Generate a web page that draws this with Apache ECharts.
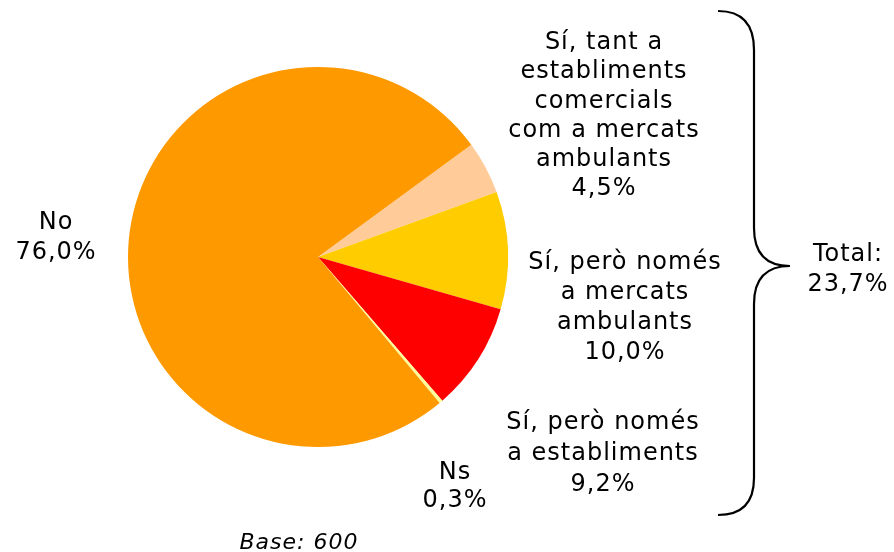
<!DOCTYPE html>
<html>
<head>
<meta charset="utf-8">
<script src="https://cdn.jsdelivr.net/npm/echarts@6/dist/echarts.min.js"></script>
<style>
  html, body { margin: 0; padding: 0; background: #fff; }
  #main { width: 894px; height: 552px; }
</style>
</head>
<body>
<div id="main"></div>
<script>
// ---- data ----
const categories = [
  'Sí, tant a\nestabliments\ncomercials\ncom a mercats\nambulants',
  'Sí, però només\na mercats\nambulants',
  'Sí, però només\na establiments',
  'Ns',
  'No'
];
const values = [4.5, 10.0, 9.2, 0.3, 76.0];
const totalLabel = 'Total:';
const baseText = 'Base: 600';

// ---- style ----
const colors = ['#FFCC99', '#FFCC00', '#FF0000', '#FFFF99', '#FF9900'];
const labelPos = [[604, 116], [625, 308], [603, 454], [455, 487], [56, 238]];
const labelLineHeights = [29.2, 30, 31, 28, 30];
const FONT = "'DejaVu Sans', Verdana, sans-serif";

// widen the text a little, like the reference's spaced-out lettering
(function () {
  const proto = CanvasRenderingContext2D.prototype;
  const orig = proto.fillText;
  proto.fillText = function () {
    try { this.letterSpacing = '1px'; } catch (e) {}
    return orig.apply(this, arguments);
  };
})();

function fmt(v) { return v.toFixed(1).replace('.', ','); }

const yesTotal = values[0] + values[1] + values[2];

const braceStyle = { fill: 'none', stroke: '#000', lineWidth: 2.2 };
function curve(x1, y1, cx, cy, x2, y2) {
  return { type: 'bezierCurve', shape: { x1, y1, cpx1: cx, cpy1: cy, x2, y2 }, style: braceStyle };
}
function seg(x1, y1, x2, y2) {
  return { type: 'line', shape: { x1, y1, x2, y2 }, style: braceStyle };
}

const chart = echarts.init(document.getElementById('main'), null, { renderer: 'canvas' });
chart.setOption({
  animation: false,
  backgroundColor: '#fff',
  series: [{
    type: 'pie',
    center: [318, 257],
    radius: [0, 190],
    startAngle: 36.2,
    clockwise: true,
    avoidLabelOverlap: false,
    itemStyle: { borderWidth: 0 },
    label: {
      show: true,
      position: 'outside',
      color: '#000',
      fontFamily: FONT,
      fontSize: 24,
      lineHeight: 30,
      align: 'center',
      formatter: p => p.name + '\n' + fmt(p.value) + '%'
    },
    labelLine: { show: false },
    labelLayout: function (params) {
      const p = labelPos[params.dataIndex];
      return { x: p[0], y: p[1], align: 'center', verticalAlign: 'middle' };
    },
    emphasis: { disabled: true },
    data: categories.map((c, i) => ({
      name: c,
      value: values[i],
      itemStyle: { color: colors[i] },
      label: { lineHeight: labelLineHeights[i] }
    }))
  }],
  graphic: [
    curve(718, 11, 754, 11, 754, 50),
    seg(754, 50, 754, 228),
    curve(754, 228, 754, 266, 790, 266),
    curve(790, 266, 754, 266, 754, 304),
    seg(754, 304, 754, 478),
    curve(754, 478, 754, 515, 718, 515),
    {
      type: 'text',
      x: 848, y: 270,
      style: {
        text: totalLabel + '\n' + fmt(yesTotal) + '%',
        font: "24px " + FONT,
        fill: '#000',
        align: 'center',
        verticalAlign: 'middle',
        lineHeight: 30
      }
    },
    {
      type: 'text',
      x: 299, y: 543,
      style: {
        text: baseText,
        font: "italic 22px " + FONT,
        fill: '#000',
        align: 'center',
        verticalAlign: 'middle'
      }
    }
  ]
});
</script>
</body>
</html>
